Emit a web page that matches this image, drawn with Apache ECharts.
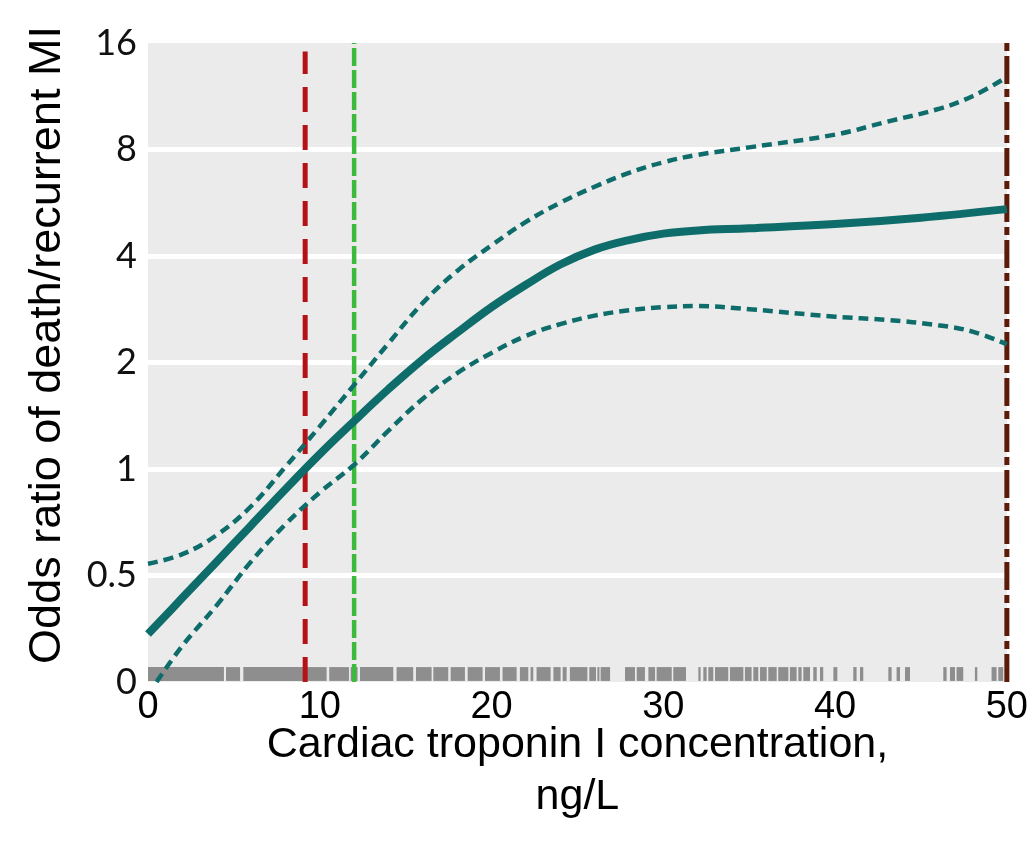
<!DOCTYPE html>
<html>
<head>
<meta charset="utf-8">
<title>Odds ratio vs cardiac troponin I</title>
<script src="https://cdn.jsdelivr.net/npm/echarts@6/dist/echarts.min.js"></script>
<style>
  html, body { margin: 0; padding: 0; background: #ffffff; }
  #chart { width: 1031px; height: 844px; }
</style>
</head>
<body>
<div id="chart"></div>
<script>
// y values are log2(odds ratio); bottom tick is shown as "0"
const yTickLabels = ['0', '0.5', '1', '2', '4', '8', '16'];

const mainX = [0, 2, 4, 6, 8, 10, 12, 14, 16, 18, 20, 22, 24, 26, 28, 30, 32, 35, 40, 45, 50];
const mainY = [-1.55, -1.21, -0.87, -0.53, -0.19, 0.14, 0.45, 0.75, 1.03, 1.28, 1.52, 1.73, 1.92, 2.06, 2.15, 2.21, 2.24, 2.26, 2.30, 2.36, 2.44];

const upperX = [0, 2, 4, 6, 8, 10, 12, 14, 16, 18, 20, 22, 24, 26, 28, 30, 32, 35, 40, 43, 46, 48, 50];
const upperY = [-0.89, -0.80, -0.62, -0.35, 0.02, 0.40, 0.79, 1.18, 1.56, 1.86, 2.10, 2.32, 2.50, 2.65, 2.78, 2.88, 2.95, 3.02, 3.14, 3.26, 3.38, 3.50, 3.68];

const lowerX = [0.5, 2, 4, 6, 8, 10, 12, 14, 16, 18, 20, 22, 24, 26, 28, 30, 32, 35, 40, 43, 46, 48, 50];
const lowerY = [-2.0, -1.66, -1.28, -0.87, -0.52, -0.22, 0.04, 0.36, 0.66, 0.90, 1.09, 1.25, 1.36, 1.44, 1.49, 1.52, 1.53, 1.50, 1.43, 1.40, 1.35, 1.29, 1.17];

// vertical reference lines (x positions)
const refRed = 9.15;
const refGreen = 12;
const refBrown = 50;

// rug of observations, as [start, end] runs along x
const rugSegments = [
  [0, 4.42], [4.54, 5.36], [5.55, 9.1], [9.2, 10.4], [10.55, 11.7], [11.8, 12.2],
  [12.34, 14.28], [14.47, 15.44], [15.6, 16.51], [16.61, 17.48], [17.62, 18.45],
  [18.61, 19.48], [19.62, 20.49], [20.64, 21.46], [21.65, 22.14], [22.27, 22.43],
  [22.62, 23.44], [23.6, 24.02], [24.14, 24.37], [24.56, 25.58], [25.69, 26.08],
  [26.16, 26.28], [26.35, 26.9], [27.77, 28.35], [28.45, 28.93], [29.13, 29.52],
  [29.61, 30.49], [30.58, 31.32], [32.04, 32.17], [32.33, 32.52], [32.62, 32.91],
  [33.01, 33.78], [33.88, 34.66], [34.75, 35.14], [35.24, 35.53], [35.63, 36.02],
  [36.11, 36.6], [36.69, 37.28], [37.37, 37.76], [37.86, 38.05], [38.15, 38.54],
  [38.73, 38.93], [39.12, 39.31], [39.9, 40.13], [41.06, 41.25], [41.45, 41.64],
  [43.1, 43.29], [43.58, 43.78], [44.07, 44.36], [46.3, 46.49], [46.69, 46.98],
  [47.07, 47.46], [48.14, 48.28], [49.11, 49.4], [49.5, 49.79]
];
const rugTop = -1.86;
const rugBottom = -1.99;

const teal = '#0e6d6a';

function pairs(xs, ys) {
  return xs.map((x, i) => [x, ys[i]]);
}

const chart = echarts.init(document.getElementById('chart'));

chart.setOption({
  animation: false,
  grid: {
    left: 148,
    right: 24,
    top: 43,
    bottom: 162,
    show: true,
    backgroundColor: '#ebebeb',
    borderWidth: 0
  },
  graphic: [{
    type: 'text',
    x: 48,
    y: 345,
    rotation: Math.PI / 2,
    style: {
      text: 'Odds ratio of death/recurrent MI',
      font: '45px "Liberation Sans", Arial, sans-serif',
      fill: '#000',
      textAlign: 'center',
      textVerticalAlign: 'middle'
    }
  }],
  xAxis: {
    type: 'value',
    min: 0,
    max: 50,
    interval: 10,
    name: 'Cardiac troponin I concentration,\nng/L',
    nameLocation: 'middle',
    nameGap: 37,
    nameMoveOverlap: false,
    nameTextStyle: {
      fontFamily: '"Liberation Sans", Arial, sans-serif',
      fontSize: 43,
      color: '#000',
      lineHeight: 52,
      verticalAlign: 'top'
    },
    axisLine: {show: false},
    axisTick: {show: false},
    splitLine: {show: false},
    axisLabel: {
      fontFamily: '"Liberation Sans", Arial, sans-serif',
      fontSize: 38,
      color: '#000',
      margin: 7
    }
  },
  yAxis: {
    type: 'value',
    min: -2,
    max: 4,
    interval: 1,
    axisLine: {show: false},
    axisTick: {show: false},
    splitLine: {
      show: true,
      showMinLine: false,
      showMaxLine: false,
      lineStyle: {color: '#ffffff', width: 5}
    },
    axisLabel: {
      fontFamily: 'Lato, "Open Sans", sans-serif',
      fontSize: 36,
      color: '#111',
      margin: 11,
      formatter: v => yTickLabels[Math.round(v) + 2]
    }
  },
  series: [
    {
      type: 'custom',
      z: 1,
      renderItem: function (params, api) {
        const p0 = api.coord([api.value(0), rugTop]);
        const p1 = api.coord([api.value(1), rugBottom]);
        return {
          type: 'rect',
          shape: {x: p0[0], y: p0[1], width: p1[0] - p0[0], height: p1[1] - p0[1]},
          style: {fill: '#8e8e8e'}
        };
      },
      encode: {x: [0, 1], y: 2},
      data: rugSegments.map(s => [s[0], s[1], rugBottom])
    },
    {
      type: 'line',
      z: 3,
      data: [[refRed, -2], [refRed, 3.92]],
      symbol: 'none',
      lineStyle: {color: '#b31217', width: 5, type: [25, 13]}
    },
    {
      type: 'line',
      z: 3,
      data: [[refGreen, -2], [refGreen, 4]],
      symbol: 'none',
      lineStyle: {color: '#3cba3c', width: 4.5, type: [18, 4]}
    },
    {
      type: 'line',
      z: 4,
      clip: false,
      data: [[refBrown, -2], [refBrown, 4]],
      symbol: 'none',
      lineStyle: {color: '#5c1a0b', width: 5, type: [28, 5, 8, 5]}
    },
    {
      type: 'line',
      z: 5,
      data: pairs(upperX, upperY),
      smooth: 0.4,
      symbol: 'none',
      lineStyle: {color: teal, width: 4.5, type: [10, 6]}
    },
    {
      type: 'line',
      z: 5,
      data: pairs(lowerX, lowerY),
      smooth: 0.4,
      symbol: 'none',
      lineStyle: {color: teal, width: 4.5, type: [10, 6]}
    },
    {
      type: 'line',
      z: 6,
      data: pairs(mainX, mainY),
      smooth: 0.4,
      symbol: 'none',
      lineStyle: {color: teal, width: 8}
    }
  ]
});
</script>
</body>
</html>
